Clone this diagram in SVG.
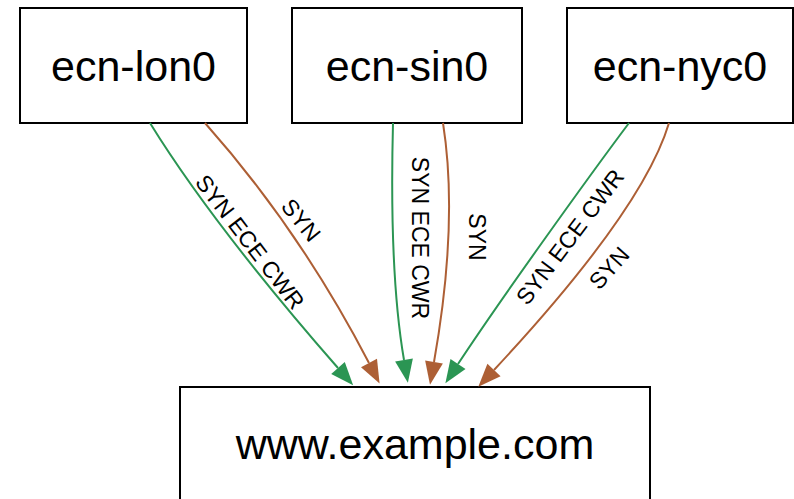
<svg xmlns="http://www.w3.org/2000/svg" width="794" height="499" viewBox="0 0 794 499">
  <style>
    .node rect { fill: #ffffff; stroke: #000000; stroke-width: 2; }
    .node text { font-family: "Liberation Sans", Arial, sans-serif; font-size: 43px; fill: #000000; text-anchor: middle; }
    .edge { fill: none; stroke-width: 2; }
    .ecn { stroke: #2b9553; marker-end: url(#head-ecn); }
    .syn { stroke: #ad5f35; marker-end: url(#head-syn); }
    .lbl { font-family: "Liberation Sans", Arial, sans-serif; font-size: 23px; fill: #000000; text-anchor: middle; dominant-baseline: central; }
  </style>
  <defs>
    <marker id="head-ecn" markerUnits="userSpaceOnUse" markerWidth="24" markerHeight="18" refX="0" refY="9" orient="auto" overflow="visible">
      <path d="M0,0 L23,9 L0,18 Z" fill="#2b9553"/>
    </marker>
    <marker id="head-syn" markerUnits="userSpaceOnUse" markerWidth="24" markerHeight="18" refX="0" refY="9" orient="auto" overflow="visible">
      <path d="M0,0 L23,9 L0,18 Z" fill="#ad5f35"/>
    </marker>
  </defs>

  <g id="ecn-lon0" class="node">
    <rect x="20" y="8" width="227" height="115"/>
    <text x="133.5" y="81">ecn-lon0</text>
  </g>
  <g id="ecn-sin0" class="node">
    <rect x="292" y="8" width="230" height="115"/>
    <text x="407" y="81">ecn-sin0</text>
  </g>
  <g id="ecn-nyc0" class="node">
    <rect x="567" y="8" width="226" height="115"/>
    <text x="680" y="81">ecn-nyc0</text>
  </g>
  <g id="www" class="node">
    <rect x="180" y="387" width="470" height="140"/>
    <text x="415" y="459">www.example.com</text>
  </g>

  <g id="connectors">
    <path class="edge ecn" d="M150,123 Q213,225 338,368"/>
    <path class="edge syn" d="M205,123 Q300,230 369,363"/>
    <path class="edge ecn" d="M393,123 C391,200 392,290 404,360"/>
    <path class="edge syn" d="M443,123 C452,180 452,260 434,362"/>
    <path class="edge ecn" d="M629,123 C590,175 500,300 458,364"/>
    <path class="edge syn" d="M669,123 Q643,210 494,370"/>

    <text class="lbl" transform="translate(250,242) rotate(52.5)">SYN ECE CWR</text>
    <text class="lbl" transform="translate(301,220) rotate(51)">SYN</text>
    <text class="lbl" transform="translate(420,238) rotate(90)">SYN ECE CWR</text>
    <text class="lbl" transform="translate(477,237) rotate(90)">SYN</text>
    <text class="lbl" transform="translate(570,237) rotate(-53)">SYN ECE CWR</text>
    <text class="lbl" transform="translate(609,268) rotate(-48)">SYN</text>
  </g>
</svg>
